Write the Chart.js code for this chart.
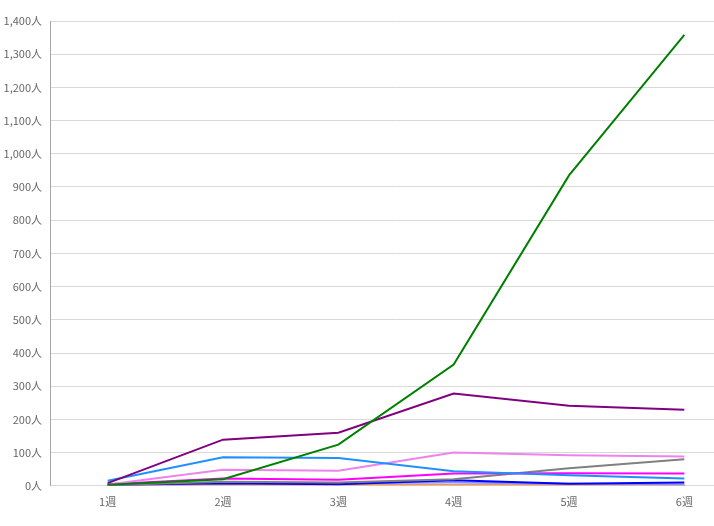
<!DOCTYPE html>
<html>
<head>
<meta charset="utf-8">
<style>
  html, body { margin: 0; padding: 0; overflow: hidden; background: #fff; }
  #wrap { position: absolute; left: 0; top: 0; width: 742px; height: 526px; }
</style>
<script src="https://cdn.jsdelivr.net/npm/chart.js@4.4.1/dist/chart.umd.min.js"></script>
</head>
<body>
<div id="wrap"><canvas id="chart"></canvas></div>
<script>
// weekly counts per series
var weeks = ['1週', '2週', '3週', '4週', '5週', '6週'];
var greenSeries   = [3, 20, 124, 365, 935, 1358];
var purpleSeries  = [8, 139, 160, 278, 241, 229];
var skySeries     = [15, 86, 84, 44, 32, 22];
var violetSeries  = [4, 48, 45, 100, 92, 88];
var magentaSeries = [5, 22, 18, 37, 38, 37];
var graySeries    = [2, 12, 10, 20, 53, 80];
var blueSeries    = [3, 8, 5, 17, 6, 10];
var lilacSeries   = [2, 6, 8, 10, 6, 4];
var khakiSeries   = [1, 2, 1, 1, 1, 1];
var crimsonSeries = [1, 3, 2, 2, 2, 2];

function line(data, color) {
    return { data: data, borderColor: color, backgroundColor: color, borderWidth: 2,
             pointRadius: 0, tension: 0, fill: false };
}

new Chart(document.getElementById('chart'), {
    type: 'line',
    data: {
        labels: weeks,
        datasets: [
            line(greenSeries, '#008000'),
            line(purpleSeries, '#800080'),
            line(skySeries, '#1E90FF'),
            line(violetSeries, '#EE82EE'),
            line(magentaSeries, '#FF00FF'),
            line(graySeries, '#808080'),
            line(blueSeries, '#0000FF'),
            line(lilacSeries, '#9090F0'),
            line(khakiSeries, '#F0E68C'),
            line(crimsonSeries, '#DC143C')
        ]
    },
    options: {
        responsive: true,
        maintainAspectRatio: false,
        animation: false,
        layout: { padding: { top: 21, right: 0, left: 0, bottom: 9 } },
        plugins: { legend: { display: false }, tooltip: { enabled: false } },
        scales: {
            x: {
                offset: true,
                grid: { display: false, drawTicks: false },
                border: { display: false },
                ticks: { color: '#666', padding: 9, font: { family: 'Noto Sans CJK JP', size: 11 } }
            },
            y: {
                min: 0, max: 1400,
                afterFit: function (s) { s.width = 50; },
                grid: { color: '#d9d9d9', drawTicks: false },
                border: { color: '#a6a6a6', width: 1 },
                ticks: {
                    stepSize: 100, padding: 8, color: '#666',
                    font: { family: 'Noto Sans CJK JP', size: 11 },
                    callback: function (v) { return v.toLocaleString('en-US') + '人'; }
                }
            }
        }
    }
});
</script>
</body>
</html>
